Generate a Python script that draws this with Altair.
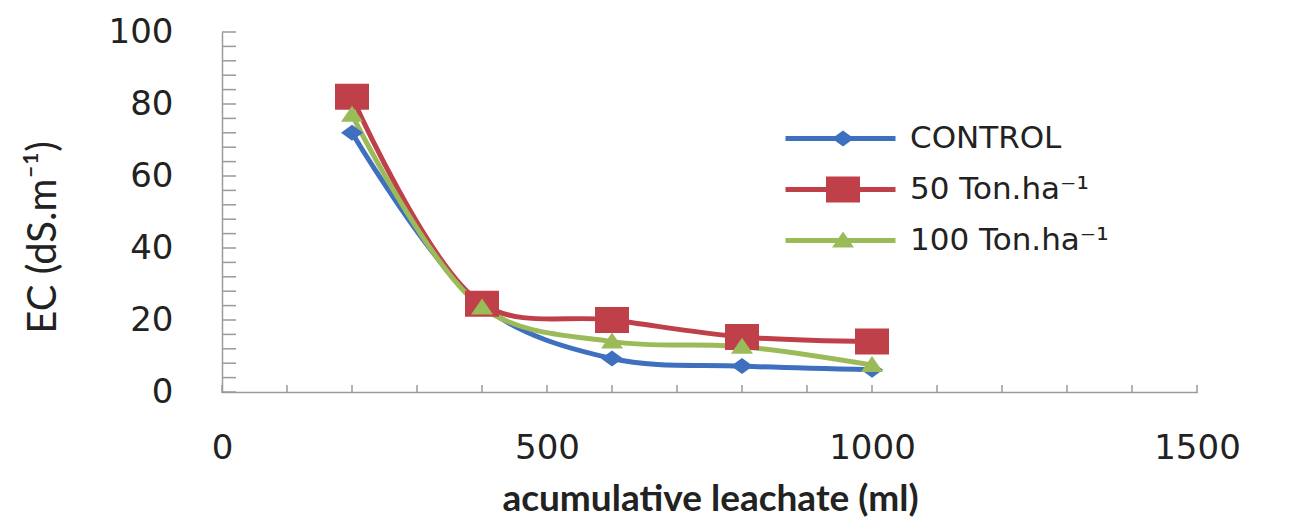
import altair as alt
import pandas as pd

# ---- data ----
leachate_ml = [200, 400, 600, 800, 1000]
series_names = ["CONTROL", "50 Ton.ha⁻¹", "100 Ton.ha⁻¹"]
ec_control = [72, 24, 9.3, 7.2, 6.2]
ec_50 = [82, 24.5, 20, 15.3, 14]
ec_100 = [77, 23.5, 14, 12.6, 7.5]

x_tick_labels = [0, 500, 1000, 1500]
y_tick_labels = [0, 20, 40, 60, 80, 100]
x_minor_ticks = list(range(0, 1501, 100))
y_minor_ticks = list(range(0, 101, 4))

# ---- styles ----
series_colors = ["#3F6FBF", "#C0404A", "#9BBB59"]
marker_paths = [
    "M-1.1,0L0,-0.8L1.1,0L0,0.8Z",          # diamond
    "M-1.7,-1.3H1.7V1.3H-1.7Z",             # square
    "M0,-0.9L1.1,0.7H-1.1Z",                # triangle
]
axis_grey = "#9a9a9a"

rows = []
for name, vals in zip(series_names, [ec_control, ec_50, ec_100]):
    for x, v in zip(leachate_ml, vals):
        rows.append({"leachate": x, "ec": v, "series": name, "series_m": name})
df = pd.DataFrame(rows)

xs = alt.Scale(domain=[0, 1500], nice=False, zero=True)
ys = alt.Scale(domain=[0, 100], nice=False, zero=True)

x_axis = alt.Axis(
    values=x_tick_labels, format="d", title="acumulative leachate (ml)", grid=False,
    ticks=False, tickSize=0, domainColor=axis_grey, domainWidth=1.5,
    labelFont="DejaVu Sans", labelFontSize=34, labelColor="#222222",
    labelPadding=39, labelFlush=False,
    titleFont="Lato", titleFontSize=37, titleFontWeight="bold", titleColor="#222222",
    titleX=488, titleY=118, titleBaseline="alphabetic", titleAlign="center",
)
y_axis = alt.Axis(
    values=y_tick_labels, format="d", title="EC (dS.m⁻¹)", grid=False,
    ticks=False, tickSize=0, domainColor=axis_grey, domainWidth=1.5,
    labelFont="DejaVu Sans", labelFontSize=34, labelColor="#222222",
    labelPadding=49, labelFlush=False,
    titleFont="Lato", titleFontSize=40, titleFontWeight="normal", titleColor="#222222",
    titleAngle=270, titleX=-179, titleY=205, titleBaseline="middle", titleAlign="center",
)

line_legend = alt.Legend(
    orient="none", legendX=603, legendY=91, title=None,
    symbolType="M-5.5,0H5.5", symbolSize=400, symbolStrokeWidth=5,
    labelFont="DejaVu Sans", labelFontSize=31, labelColor="#222222",
    labelOffset=54, rowPadding=19, labelLimit=400,
)
lines = alt.Chart(df).mark_line(interpolate="catmull-rom", strokeWidth=5).encode(
    x=alt.X("leachate:Q", scale=xs, axis=x_axis),
    y=alt.Y("ec:Q", scale=ys, axis=y_axis),
    color=alt.Color("series:N", scale=alt.Scale(domain=series_names, range=series_colors),
                    legend=line_legend),
    detail="series:N",
)

marker_legend = alt.Legend(
    orient="none", legendX=605.5, legendY=91, title=None,
    symbolSize=400, symbolStrokeWidth=0,
    labelFont="DejaVu Sans", labelFontSize=31, labelOpacity=0,
    labelOffset=54, rowPadding=19, labelLimit=400,
)
points = alt.Chart(df).mark_point(filled=True, size=400, opacity=1, strokeWidth=0).encode(
    x=alt.X("leachate:Q", scale=xs, axis=x_axis),
    y=alt.Y("ec:Q", scale=ys, axis=y_axis),
    color=alt.Color("series_m:N", scale=alt.Scale(domain=series_names, range=series_colors),
                    legend=marker_legend),
    shape=alt.Shape("series_m:N", scale=alt.Scale(domain=series_names, range=marker_paths),
                    legend=marker_legend),
)

y_ticks = alt.Chart(pd.DataFrame({"v": y_minor_ticks})).mark_rule(
    color=axis_grey, strokeWidth=1.5
).encode(y=alt.Y("v:Q", scale=ys, axis=y_axis), x=alt.value(0), x2=alt.value(14))

x_ticks = alt.Chart(pd.DataFrame({"v": x_minor_ticks})).mark_rule(
    color=axis_grey, strokeWidth=1.5
).encode(x=alt.X("v:Q", scale=xs, axis=x_axis), y=alt.value(353), y2=alt.value(361))

chart = alt.layer(lines, y_ticks, x_ticks, points).resolve_scale(
    color="independent", shape="independent"
).properties(
    width=975, height=360,
    autosize=alt.AutoSizeParams(type="none"),
    padding={"left": 214, "top": 24, "right": 84, "bottom": 130},
    background="white",
).configure_view(stroke=None)

chart.save("out.html", embed_options={"renderer": "svg", "actions": False})
